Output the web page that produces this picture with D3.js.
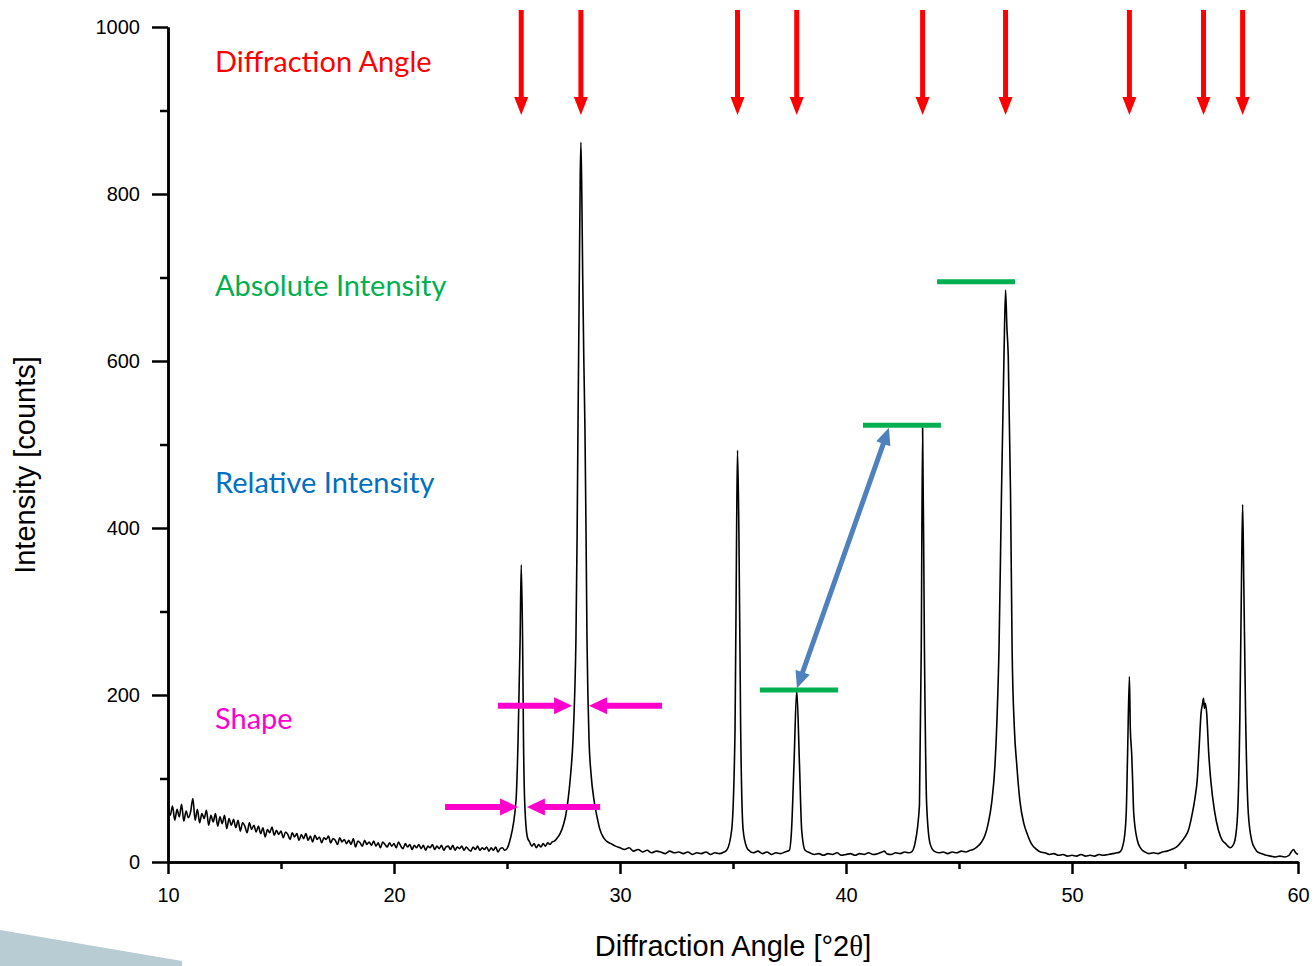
<!DOCTYPE html>
<html>
<head>
<meta charset="utf-8">
<script src="https://cdn.jsdelivr.net/npm/d3@7"></script>
<style>
  html, body { margin: 0; padding: 0; background: #fff; }
  svg { display: block; }
  .tick-label { font-family: "Liberation Sans", Arial, sans-serif; font-size: 20px; fill: #000; }
  .axis-title { font-family: "Liberation Sans", Arial, sans-serif; font-size: 29px; fill: #000; }
  .note { font-family: Lato, "Open Sans", sans-serif; font-size: 29px; }
</style>
</head>
<body>
<svg id="chart" width="1316" height="966"></svg>
<script>
// Background noise, 10 - 25 °2θ, read at 0.1° steps
const lowAngleCounts = [
  72, 56, 67, 50, 63, 54, 69, 49, 61, 53,
  60, 76, 50, 63, 47, 58, 52, 62, 44, 56,
  48, 58, 43, 54, 46, 56, 40, 52, 44, 51,
  41, 50, 37, 47, 43, 35, 47, 39, 44, 36,
  43, 34, 41, 30, 39, 35, 42, 32, 38, 33,
  37, 29, 36, 33, 27, 35, 30, 34, 26, 33,
  28, 34, 26, 31, 24, 32, 27, 30, 23, 29,
  27, 31, 23, 28, 26, 21, 29, 24, 27, 22,
  26, 21, 28, 18, 25, 23, 19, 26, 21, 24,
  20, 25, 19, 23, 17, 24, 21, 18, 23, 19,
  22, 17, 24, 19, 16, 22, 18, 21, 15, 20,
  17, 21, 16, 20, 14, 19, 17, 21, 15, 19,
  16, 20, 14, 18, 19, 15, 20, 14, 18, 16,
  19, 14, 18, 15, 13, 18, 15, 19, 14, 17,
  15, 18, 13, 17, 14, 18, 12, 16, 17, 14,
  16
];

// Rest of the scan, [angle, counts]
const scanPoints = [
  [25.13, 26], [25.4, 74], [25.49, 146], [25.58, 266], [25.63, 356], [25.69, 266],
  [25.73, 146], [25.78, 74], [25.9, 30], [26.0, 24], [26.1, 19], [26.2, 22],
  [26.3, 17], [26.4, 21], [26.5, 18], [26.6, 22], [26.7, 19], [26.8, 23],
  [26.9, 21], [27.0, 24], [27.1, 25], [27.2, 28], [27.35, 34], [27.5, 45],
  [27.6, 56], [27.7, 74], [27.8, 100], [27.92, 146], [28.0, 205], [28.05, 266],
  [28.1, 386], [28.14, 517], [28.2, 700], [28.24, 820], [28.27, 862], [28.31, 800],
  [28.35, 700], [28.4, 600], [28.45, 517], [28.5, 386], [28.54, 266], [28.58, 200],
  [28.63, 146], [28.72, 105], [28.85, 74], [29.0, 52], [29.1, 40], [29.25, 30],
  [29.4, 25], [29.6, 22], [29.8, 19], [30.0, 17], [30.2, 15], [30.4, 17],
  [30.6, 13], [30.8, 15], [31.0, 12], [31.2, 14], [31.4, 11], [31.6, 13],
  [31.8, 12], [32.0, 10], [32.2, 13], [32.4, 11], [32.6, 12], [32.8, 10],
  [33.0, 12], [33.2, 9], [33.4, 11], [33.6, 10], [33.8, 12], [34.0, 9],
  [34.2, 11], [34.4, 10], [34.6, 12], [34.72, 14], [34.94, 38], [35.09, 158],
  [35.16, 398], [35.2, 493], [35.26, 398], [35.34, 158], [35.45, 38], [35.6, 18],
  [35.7, 14], [35.9, 11], [36.1, 13], [36.3, 10], [36.5, 12], [36.7, 9],
  [36.9, 11], [37.1, 10], [37.3, 12], [37.49, 14], [37.59, 38], [37.7, 118],
  [37.82, 206], [37.94, 118], [38.04, 38], [38.19, 14], [38.4, 11], [38.6, 9],
  [38.8, 10], [39.0, 8], [39.2, 10], [39.4, 9], [39.6, 11], [39.8, 8],
  [40.0, 9], [40.2, 10], [40.4, 8], [40.6, 10], [40.8, 9], [41.0, 11],
  [41.2, 9], [41.4, 10], [41.6, 12], [41.7, 13], [41.8, 10], [42.0, 9],
  [42.2, 11], [42.4, 10], [42.6, 12], [42.8, 11], [42.9, 12], [43.05, 22],
  [43.25, 68], [43.33, 255], [43.39, 520], [43.47, 255], [43.57, 68], [43.72, 22],
  [43.9, 13], [44.1, 11], [44.3, 12], [44.5, 10], [44.7, 12], [44.9, 11],
  [45.1, 13], [45.3, 12], [45.5, 14], [45.63, 15], [45.8, 18], [46.0, 24],
  [46.15, 32], [46.29, 46], [46.45, 72], [46.59, 115], [46.68, 170], [46.77, 255],
  [46.88, 442], [46.99, 605], [47.06, 685], [47.12, 640], [47.18, 605], [47.28, 442],
  [47.35, 255], [47.45, 160], [47.56, 115], [47.7, 72], [47.87, 46], [48.0, 35],
  [48.2, 22], [48.43, 15], [48.6, 12], [48.8, 11], [49.0, 9], [49.2, 10],
  [49.4, 8], [49.6, 9], [49.8, 7], [50.0, 8], [50.2, 7], [50.4, 9],
  [50.6, 7], [50.8, 8], [51.0, 7], [51.2, 9], [51.4, 8], [51.6, 9],
  [51.8, 10], [52.0, 11], [52.12, 12], [52.3, 26], [52.4, 59], [52.46, 130],
  [52.54, 222], [52.58, 160], [52.64, 130], [52.68, 100], [52.73, 59], [52.89, 26],
  [53.05, 16], [53.23, 12], [53.4, 10], [53.6, 11], [53.8, 10], [54.0, 12],
  [54.2, 13], [54.4, 15], [54.63, 18], [54.8, 23], [55.0, 30], [55.15, 38],
  [55.3, 55], [55.45, 78], [55.54, 98], [55.63, 140], [55.71, 178], [55.78, 190],
  [55.82, 196], [55.86, 184], [55.9, 190], [55.96, 178], [56.05, 130], [56.14, 98],
  [56.3, 62], [56.48, 38], [56.65, 26], [56.8, 22], [56.9, 19], [57.0, 17],
  [57.1, 19], [57.21, 26], [57.33, 59], [57.43, 178], [57.5, 338], [57.55, 428],
  [57.6, 338], [57.68, 178], [57.8, 59], [57.95, 26], [58.1, 16], [58.2, 12],
  [58.4, 10], [58.6, 8], [58.8, 7], [59.0, 6], [59.2, 7], [59.4, 6],
  [59.6, 8], [59.7, 12], [59.8, 15], [59.9, 11], [60.0, 9]
];

// Peak positions marked with red arrows
const peakAngles = [25.63, 28.27, 35.2, 37.82, 43.39, 47.06, 52.54, 55.82, 57.55];

// Green level bars: [from angle, to angle, counts]
const levelBars = [[36.19, 39.65, 206], [40.75, 44.2, 523], [44.03, 47.48, 695]];

// Blue double arrow between two peak tops: [angle, counts]
const relArrow = [[37.83, 208], [41.9, 520]];

// Magenta width arrows: [from angle, to angle, counts]
const widthArrows = [
  [24.6, 27.88, 187], [31.86, 28.63, 187],
  [22.26, 25.49, 66], [29.12, 25.88, 66]
];

const xTicks = [10, 20, 30, 40, 50, 60];
const xMinorTicks = [15, 25, 35, 45, 55];
const yTicks = [0, 200, 400, 600, 800, 1000];
const yMinorTicks = [100, 300, 500, 700, 900];

const notes = [
  { text: 'Diffraction Angle', color: '#ff0000', y: 72 },
  { text: 'Absolute Intensity', color: '#00b050', y: 296 },
  { text: 'Relative Intensity', color: '#0070c0', y: 493 },
  { text: 'Shape', color: '#ff00cc', y: 729 }
];

// ---------------------------------------------------------------
const svg = d3.select('#chart');

const x = d3.scaleLinear().domain([10, 60]).range([168, 1298]);
const y = d3.scaleLinear().domain([0, 1000]).range([862, 27]);

// Slide decoration in the corner
svg.append('path')
  .attr('d', 'M0,930 L182,961 L182,966 L0,966 Z')
  .attr('fill', '#b8ccd4');

// Combine both parts of the scan
const scan = lowAngleCounts.map((c, i) => [10 + i * 0.1, c]).concat(scanPoints);

const line = d3.line()
  .x(d => x(d[0]))
  .y(d => y(d[1]))
  .curve(d3.curveMonotoneX);

svg.append('path')
  .datum(scan)
  .attr('d', line)
  .attr('fill', 'none')
  .attr('stroke', '#000')
  .attr('stroke-width', 1.6)
  .attr('stroke-linejoin', 'round');

// Axes
const xAxis = svg.append('g').attr('transform', `translate(0,${y(0)})`);
xAxis.call(d3.axisBottom(x).tickValues(xTicks).tickSize(12).tickPadding(14).tickSizeOuter(0));
xAxis.append('g')
  .call(d3.axisBottom(x).tickValues(xMinorTicks).tickSize(7).tickFormat('').tickSizeOuter(0));

const yAxis = svg.append('g').attr('transform', `translate(${x(10)},0)`);
yAxis.call(d3.axisLeft(y).tickValues(yTicks).tickFormat(d3.format('d')).tickSize(16).tickPadding(12).tickSizeOuter(0));
yAxis.append('g')
  .call(d3.axisLeft(y).tickValues(yMinorTicks).tickSize(8).tickFormat('').tickSizeOuter(0));

svg.selectAll('.domain').attr('stroke', '#000').attr('stroke-width', 2.5);
svg.selectAll('.tick line').attr('stroke', '#000').attr('stroke-width', 2.5);
svg.selectAll('.tick text').attr('class', 'tick-label');

// Axis titles
const xTitle = svg.append('text')
  .attr('class', 'axis-title')
  .attr('x', 733)
  .attr('y', 956)
  .attr('text-anchor', 'middle');
xTitle.append('tspan').text('Diffraction Angle [°2');
xTitle.append('tspan').attr('font-family', '"Liberation Serif", serif').text('θ');
xTitle.append('tspan').text(']');

svg.append('text')
  .attr('class', 'axis-title')
  .attr('transform', 'translate(35,465) rotate(-90)')
  .attr('text-anchor', 'middle')
  .text('Intensity [counts]');

// Filled arrow polygon from (x1,y1) to (x2,y2)
function arrowPath(x1, y1, x2, y2, shaft, headLen, headW, both) {
  const dx = x2 - x1, dy = y2 - y1;
  const len = Math.hypot(dx, dy);
  const ux = dx / len, uy = dy / len;
  const nx = -uy, ny = ux;
  const p = (d, w) => [x1 + ux * d + nx * w, y1 + uy * d + ny * w];
  const s = shaft / 2, h = headW / 2;
  const pts = [];
  if (both) {
    pts.push(p(0, 0), p(headLen, -h), p(headLen, -s));
  } else {
    pts.push(p(0, -s));
  }
  pts.push(p(len - headLen, -s), p(len - headLen, -h), p(len, 0), p(len - headLen, h), p(len - headLen, s));
  if (both) {
    pts.push(p(headLen, s), p(headLen, h));
  } else {
    pts.push(p(0, s));
  }
  return 'M' + pts.map(q => q.join(',')).join('L') + 'Z';
}

// Red peak arrows at the top
svg.append('g').selectAll('path')
  .data(peakAngles)
  .join('path')
  .attr('d', a => arrowPath(x(a), 10, x(a), 115, 5, 18, 14, false))
  .attr('fill', '#ff0000');

// Green level bars
svg.append('g').selectAll('line')
  .data(levelBars)
  .join('line')
  .attr('x1', d => x(d[0]))
  .attr('x2', d => x(d[1]))
  .attr('y1', d => y(d[2]))
  .attr('y2', d => y(d[2]))
  .attr('stroke', '#00b050')
  .attr('stroke-width', 5);

// Blue relative intensity arrow
svg.append('path')
  .attr('d', arrowPath(x(relArrow[0][0]), y(relArrow[0][1]), x(relArrow[1][0]), y(relArrow[1][1]), 5, 17, 15, true))
  .attr('fill', '#4f81bd');

// Magenta peak width arrows
svg.append('g').selectAll('path')
  .data(widthArrows)
  .join('path')
  .attr('d', d => arrowPath(x(d[0]), y(d[2]), x(d[1]), y(d[2]), 6, 18, 17, false))
  .attr('fill', '#ff00cc');

// Labels on the left
svg.append('g').selectAll('text')
  .data(notes)
  .join('text')
  .attr('class', 'note')
  .attr('x', 215)
  .attr('y', d => d.y)
  .attr('fill', d => d.color)
  .text(d => d.text);
</script>
</body>
</html>
